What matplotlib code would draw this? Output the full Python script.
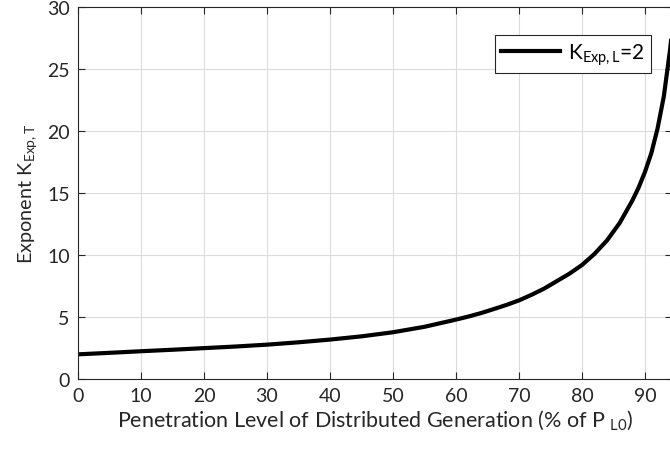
import matplotlib
matplotlib.use("Agg")
import matplotlib.pyplot as plt

# Penetration level (% of P_L0) and the resulting exponent K_Exp,T
penetration = [0, 5, 10, 15, 20, 25, 30, 35, 40, 45, 50, 55, 60, 62, 64, 66, 68,
               70, 72, 74, 76, 78, 80, 82, 84, 86, 88, 89, 90, 91, 92, 93, 94, 95]
k_exp_t = [2.0, 2.12, 2.25, 2.37, 2.5, 2.63, 2.78, 2.97, 3.19, 3.45, 3.78, 4.22,
           4.8, 5.05, 5.33, 5.65, 5.98, 6.35, 6.8, 7.3, 7.9, 8.5, 9.2, 10.1, 11.2,
           12.6, 14.4, 15.45, 16.7, 18.2, 20.2, 22.8, 26.6, 31.5]
x_ticks = [0, 10, 20, 30, 40, 50, 60, 70, 80, 90]
y_ticks = [0, 5, 10, 15, 20, 25, 30]

plt.rcParams['font.family'] = ['Lato', 'DejaVu Sans']
plt.rcParams['mathtext.fontset'] = 'custom'
plt.rcParams['mathtext.rm'] = 'Lato'
plt.rcParams['mathtext.it'] = 'Lato'

fig = plt.figure(figsize=(6.7, 4.52), dpi=100)
ax = fig.add_axes([0.1164, 0.159, 0.8866, 0.823])

ax.plot(penetration, k_exp_t, color='black', linewidth=3, solid_joinstyle='round',
        label=r'K$_{\mathrm{Exp,L}}$=2')

ax.set_xlim(0, 94.3)
ax.set_ylim(0, 30)
ax.set_xticks(x_ticks)
ax.set_yticks(y_ticks)
ax.grid(True, color='#dcdcdc', linewidth=0.8)
ax.tick_params(direction='in', top=True, right=True, labelsize=14, colors='#262626',
               length=5, pad=6)
for s in ax.spines.values():
    s.set_color('#262626')

ax.set_xlabel(r'Penetration Level of Distributed Generation (% of P $_{\mathrm{L0}}$)',
              fontsize=15.5, color='#262626', labelpad=2)
ax.set_ylabel(r'Exponent K$_{\mathrm{Exp,T}}$', fontsize=14.3, color='#262626', labelpad=6)

leg = ax.legend(loc='upper right', bbox_to_anchor=(0.965, 0.925), borderaxespad=0,
                fontsize=15, fancybox=False, framealpha=1, handlelength=2.8,
                borderpad=0.3, handletextpad=0.4)
leg.get_frame().set_edgecolor('#262626')
leg.get_frame().set_linewidth(0.8)

fig.savefig('out.png', dpi=100)
